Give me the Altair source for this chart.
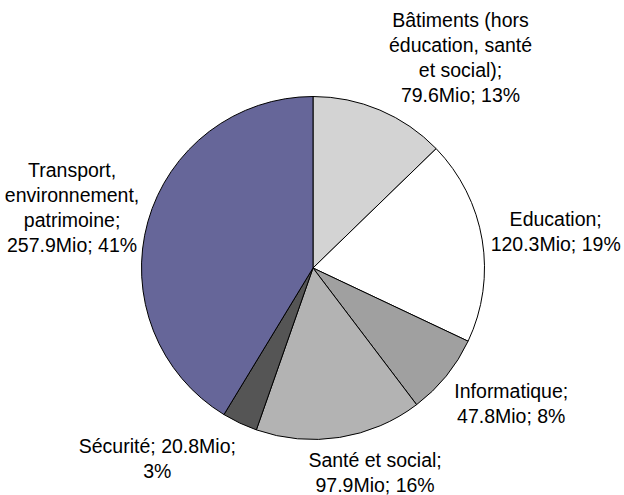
import altair as alt
import pandas as pd

# Investment budget by domain, in millions (Mio)
categories = [
    "Bâtiments",
    "Education",
    "Informatique",
    "Santé et social",
    "Sécurité",
    "Transport",
]
values = [79.6, 120.3, 47.8, 97.9, 20.8, 257.9]
slice_colors = ["#d3d3d3", "#ffffff", "#a0a0a0", "#b3b3b3", "#555555", "#666699"]

# label text per slice: {v} = amount, {p} = rounded share
label_templates = [
    "Bâtiments (hors\néducation, santé\net social);\n{v}Mio; {p}%",
    "Education;\n{v}Mio; {p}%",
    "Informatique;\n{v}Mio; {p}%",
    "Santé et social;\n{v}Mio; {p}%",
    "Sécurité; {v}Mio;\n{p}%",
    "Transport,\nenvironnement,\npatrimoine;\n{v}Mio; {p}%",
]
# per-label nudges (dx, dy) of the text block centre away from the mid-angle anchor
label_nudges = [(52, 16), (1, 5), (8, -18), (24, -37), (-51, -30), (-5, 7)]

LINE_HEIGHT = 25
FONT_SIZE = 19.5

total = sum(values)
labels = [
    t.format(v=v, p=round(v / total * 100)) for t, v in zip(label_templates, values)
]

df = pd.DataFrame(
    {
        "category": categories,
        "value": values,
        "order": list(range(len(values))),
        "label": labels,
    }
)

theta_scale = alt.Scale(domain=[0, total])

pie = (
    alt.Chart(df)
    .mark_arc(outerRadius=171.5, stroke="black", strokeWidth=1)
    .encode(
        theta=alt.Theta("value:Q", stack=True, scale=theta_scale),
        color=alt.Color(
            "category:N",
            scale=alt.Scale(domain=categories, range=slice_colors),
            legend=None,
        ),
        order=alt.Order("order:Q", sort="ascending"),
    )
)

label_layers = []
for i, (dx, dy) in enumerate(label_nudges):
    # multi-line text starts at the anchor; lift it so the block is centred
    n_lines = labels[i].count("\n") + 1
    block_dy = dy - (n_lines - 1) / 2 * LINE_HEIGHT
    layer = (
        alt.Chart(df)
        .transform_window(
            cum="sum(value)", sort=[alt.SortField("order")], frame=[None, 0]
        )
        .transform_calculate(mid="datum.cum - datum.value / 2")
        .transform_filter(alt.datum.order == i)
        .mark_text(
            radius=245,
            dx=dx,
            dy=block_dy,
            align="center",
            baseline="middle",
            lineBreak="\n",
            font="Liberation Sans",
            fontSize=FONT_SIZE,
            lineHeight=LINE_HEIGHT,
            color="black",
        )
        .encode(
            theta=alt.Theta("mid:Q", stack=False, scale=theta_scale),
            text="label:N",
        )
    )
    label_layers.append(layer)

chart = (
    alt.layer(pie, *label_layers)
    .properties(
        width=622,
        height=454,
        padding={"left": 2, "top": 41, "right": 0, "bottom": 0},
        autosize="none",
        background="white",
    )
    .configure_view(strokeWidth=0)
)

chart.save("out.html", embed_options={"renderer": "svg", "actions": False})
